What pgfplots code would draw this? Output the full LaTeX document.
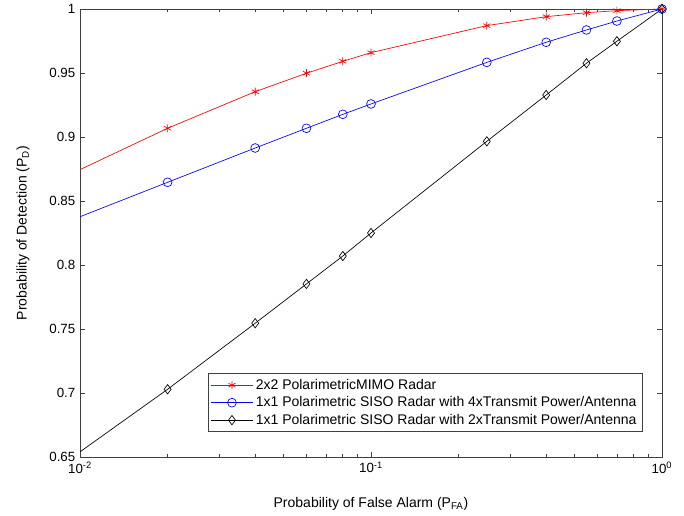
\documentclass[border=0pt]{standalone}
\usepackage{pgfplots}
\pgfplotsset{compat=1.18}
\usepackage{fontspec}
\setmainfont{Liberation Sans}
\begin{document}
\begin{tikzpicture}
\begin{axis}[
  scale only axis,
  width=436.5pt, height=336pt,
  xmode=log,
  xmin=0.01, xmax=1,
  ymin=0.65, ymax=1,
  xtick={0.01,0.1,1},
  xticklabels={10\textsuperscript{-2},10\textsuperscript{-1},10\textsuperscript{0}},
  ytick={0.65,0.7,0.75,0.8,0.85,0.9,0.95,1},
  yticklabels={0.65,0.7,0.75,0.8,0.85,0.9,0.95,1},
  tick align=inside,
  major tick length=4pt,
  minor tick length=2.5pt,
  axis line style={draw=black!75, line width=0.5pt},
  every tick/.style={black!75, line width=0.5pt},
  tick label style={font=\fontsize{10}{12}\selectfont},
  label style={font=\fontsize{10.5}{12}\selectfont},
  /pgf/number format/assume math mode=true,
  xlabel={Probability of False Alarm (P\textsubscript{FA})},
  ylabel={Probability of Detection (P\textsubscript{D})},
  xlabel style={yshift=-11pt},
  ylabel style={yshift=8pt},
  legend style={font=\fontsize{10.5}{13}\selectfont, at={(0.966,0.056)}, anchor=south east,
    draw=black!75, line width=0.5pt, inner sep=2pt, row sep=0pt, cells={anchor=west}},
  legend cell align=left,
  legend image code/.code={%
    \draw[mark indices={2}] plot coordinates {(0cm,0cm) (0.55cm,0cm) (1.1cm,0cm)};},
]
\coordinate (bl) at (rel axis cs:-0.1375,-0.1317);
\coordinate (tr) at (rel axis cs:1.0378,1.0201);
\addplot[red, line width=0.5pt, mark=asterisk, mark size=3pt, mark indices={2,...,11}] coordinates {
(0.01,0.8745) (0.02,0.9068) (0.04,0.9354) (0.06,0.9498) (0.08,0.9591) (0.1,0.9659)
(0.25,0.9870) (0.4,0.9940) (0.55,0.9971) (0.7,0.9987) (1,1)};
\addlegendentry{2x2 PolarimetricMIMO Radar}
\addplot[blue, line width=0.5pt, mark=o, mark size=3.3pt, mark indices={2,...,11}] coordinates {
(0.01,0.8377) (0.02,0.8646) (0.04,0.8914) (0.06,0.9068) (0.08,0.9177) (0.1,0.9258)
(0.25,0.9583) (0.4,0.9740) (0.55,0.9836) (0.7,0.9906) (1,1)};
\addlegendentry{1x1 Polarimetric SISO Radar with 4xTransmit Power/Antenna}
\addplot[black, line width=0.5pt, mark=diamond, mark size=3.5pt, mark indices={2,...,11}] coordinates {
(0.01,0.6540) (0.02,0.7029) (0.04,0.7545) (0.06,0.7852) (0.08,0.8070) (0.1,0.8250)
(0.25,0.8966) (0.4,0.9328) (0.55,0.9576) (0.7,0.9748) (1,1)};
\addlegendentry{1x1 Polarimetric SISO Radar with 2xTransmit Power/Antenna}
\end{axis}
\pgfresetboundingbox
\path (bl) rectangle (tr);
\end{tikzpicture}
\end{document}
